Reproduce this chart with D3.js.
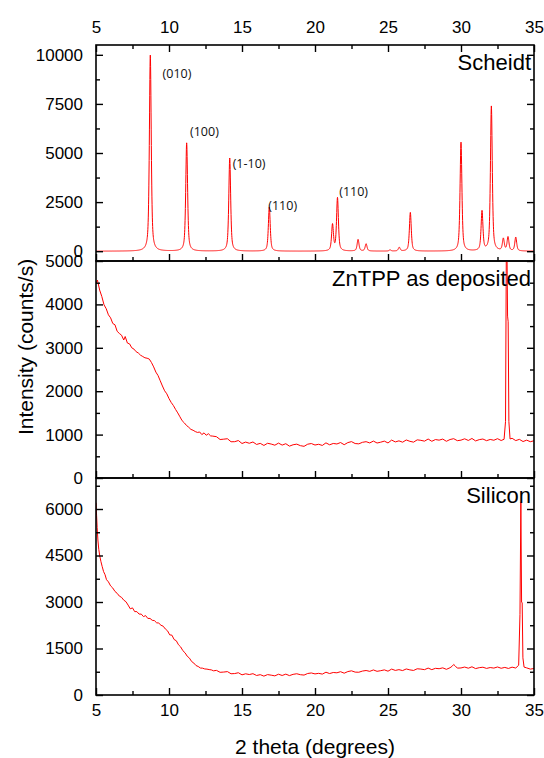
<!DOCTYPE html>
<html>
<head>
<meta charset="utf-8">
<script src="https://cdn.jsdelivr.net/npm/d3@7"></script>
<style>
  html, body { margin: 0; padding: 0; background: #fff; }
  svg { display: block; font-family: "Liberation Sans", Arial, Helvetica, sans-serif; }
</style>
</head>
<body>
<svg id="chart" width="544" height="758"></svg>
<script>
// ---------- data ----------
// 2-theta axis ticks (degrees)
const thetaTicks = [5, 10, 15, 20, 25, 30, 35];
const thetaMinorTicks = [7.5, 12.5, 17.5, 22.5, 27.5, 32.5];

// intensity ticks per panel (counts/s)
const scheidtTicks = [0, 2500, 5000, 7500, 10000];
const scheidtMinorTicks = [1250, 3750, 6250, 8750];
const znTppTicks = [0, 1000, 2000, 3000, 4000, 5000];
const znTppMinorTicks = [500, 1500, 2500, 3500, 4500];
const siliconTicks = [0, 1500, 3000, 4500, 6000];
const siliconMinorTicks = [750, 2250, 3750, 5250, 6750];

// panel titles
const panelTitles = ["Scheidt", "ZnTPP as deposited", "Silicon"];

// simulated (Scheidt) reflection list: 2-theta position and peak intensity
const reflectionAngle = [8.72, 11.21, 14.16, 16.87, 21.20, 21.54, 22.95, 23.50, 25.14, 25.77, 26.53, 30.00, 31.44, 32.08, 32.90, 33.22, 33.75];
const reflectionIntensity = [9980, 5510, 4740, 2250, 1330, 2700, 590, 370, 60, 190, 1970, 5540, 2010, 7370, 610, 700, 700];
const reflectionFwhm = 0.15;   // degrees
const reflectionEta = 0.6;     // Lorentzian fraction of the pseudo-Voigt profile

// Miller-index annotations: label, 2-theta and intensity of the label anchor
const hklLabels = ["(010)", "(100)", "(1-10)", "(110)", "(110)"];
const hklAngle = [9.56, 11.44, 14.36, 16.80, 21.66];
const hklIntensity = [8820, 5865, 4236, 2098, 2810];

// measured scan: ZnTPP film as deposited [2-theta, counts/s]
const znTppScan = [
  [5.00,4480],[5.10,4560],[5.25,4330],[5.40,4180],[5.55,3990],[5.70,3900],[5.85,3760],[6.00,3690],
  [6.15,3560],[6.30,3530],[6.45,3380],[6.60,3330],[6.75,3290],[6.90,3180],[7.00,3260],[7.15,3110],
  [7.30,3090],[7.45,3000],[7.60,2970],[7.75,2910],[7.90,2880],[8.05,2830],[8.20,2800],[8.35,2770],
  [8.50,2760],[8.65,2740],[8.80,2660],[8.95,2560],[9.10,2440],[9.25,2360],[9.40,2240],[9.55,2120],
  [9.70,2010],[9.85,1940],[10.00,1830],[10.15,1740],[10.30,1670],[10.45,1580],[10.60,1500],[10.75,1410],
  [10.90,1320],[11.05,1270],[11.20,1210],[11.35,1170],[11.50,1120],[11.65,1100],[11.80,1070],[11.95,1050],
  [12.10,1060],[12.25,1000],[12.40,1040],[12.55,985],[12.70,1020],[12.85,970],[13.00,965],[13.25,952],
  [13.50,887],[13.75,895],[14.00,905],[14.25,835],[14.50,837],[14.75,863],[15.00,795],[15.25,827],
  [15.50,800],[15.75,830],[16.00,773],[16.25,798],[16.50,750],[16.75,800],[17.00,782],[17.25,756],
  [17.50,804],[17.75,758],[18.00,790],[18.25,734],[18.50,766],[18.75,780],[19.00,745],[19.25,730],
  [19.50,779],[19.75,794],[20.00,760],[20.25,777],[20.50,750],[20.75,810],[21.00,765],[21.25,796],
  [21.50,784],[21.75,817],[22.00,767],[22.25,816],[22.50,838],[22.75,794],[23.00,787],[23.25,822],
  [23.50,837],[23.75,808],[24.00,851],[24.25,806],[24.50,825],[24.75,850],[25.00,807],[25.25,874],
  [25.50,831],[25.75,856],[26.00,825],[26.25,876],[26.50,845],[26.75,826],[27.00,879],[27.25,868],
  [27.50,849],[27.75,898],[28.00,846],[28.25,886],[28.50,872],[28.75,897],[29.00,846],[29.25,887],
  [29.50,906],[29.75,860],[30.00,872],[30.25,903],[30.50,865],[30.75,911],[31.00,854],[31.25,884],
  [31.50,898],[31.75,860],[32.00,888],[32.25,870],[32.50,906],[32.75,864],[32.95,892],[33.05,1300],
  [33.12,6400],[33.19,3730],[33.23,3600],[33.28,1300],[33.36,900],[33.50,915],[33.75,862],[34.00,890],
  [34.25,840],[34.50,872],[34.75,836],[35.00,858]
];

// measured scan: bare silicon substrate [2-theta, counts/s]
const siliconScan = [
  [5.00,6200],[5.04,5800],[5.08,5400],[5.13,5000],[5.19,4700],[5.26,4480],[5.34,4300],[5.42,4150],
  [5.52,3980],[5.62,3880],[5.72,3720],[5.85,3650],[6.00,3520],[6.15,3450],[6.30,3340],[6.45,3280],
  [6.60,3190],[6.75,3150],[6.90,3060],[7.05,3010],[7.20,2900],[7.35,2780],[7.50,2810],[7.65,2690],
  [7.80,2690],[7.95,2610],[8.10,2610],[8.25,2530],[8.40,2560],[8.55,2470],[8.70,2470],[8.85,2410],
  [9.00,2400],[9.15,2330],[9.30,2320],[9.45,2250],[9.60,2220],[9.75,2130],[9.90,2070],[10.05,1940],
  [10.20,1930],[10.35,1790],[10.50,1750],[10.65,1620],[10.80,1550],[10.95,1430],[11.10,1360],[11.25,1250],
  [11.40,1190],[11.55,1080],[11.70,1030],[11.85,950],[12.00,920],[12.15,870],[12.30,865],[12.45,840],
  [12.60,835],[12.75,820],[12.90,810],[13.05,780],[13.25,794],[13.50,732],[13.75,740],[14.00,755],
  [14.25,685],[14.50,692],[14.75,718],[15.00,650],[15.25,684],[15.50,660],[15.75,688],[16.00,630],
  [16.25,656],[16.50,609],[16.75,658],[17.00,640],[17.25,617],[17.50,670],[17.75,630],[18.00,673],
  [18.25,626],[18.50,666],[18.75,685],[19.00,655],[19.25,643],[19.50,694],[19.75,711],[20.00,680],
  [20.25,699],[20.50,674],[20.75,735],[21.00,692],[21.25,726],[21.50,716],[21.75,752],[22.00,704],
  [22.25,756],[22.50,780],[22.75,738],[23.00,734],[23.25,772],[23.50,790],[23.75,763],[24.00,808],
  [24.25,764],[24.50,784],[24.75,810],[25.00,768],[25.25,836],[25.50,793],[25.75,818],[26.00,788],
  [26.25,840],[26.50,810],[26.75,792],[27.00,846],[27.25,836],[27.50,818],[27.75,868],[28.00,818],
  [28.25,860],[28.50,848],[28.75,876],[29.00,828],[29.25,880],[29.40,930],[29.50,985],[29.60,940],
  [29.75,867],[30.00,872],[30.25,902],[30.50,864],[30.75,910],[31.00,852],[31.25,882],[31.50,896],
  [31.75,858],[32.00,886],[32.25,868],[32.50,904],[32.75,862],[33.00,890],[33.25,856],[33.50,898],
  [33.75,870],[33.95,960],[34.04,2600],[34.10,6230],[34.15,3000],[34.19,2970],[34.24,1200],[34.32,900],
  [34.50,875],[34.75,835],[35.00,855]
];

// ---------- layout ----------
const svg = d3.select("#chart");
const plotLeft = 96, plotRight = 534;
const lineColor = "#ff0000";

const x = d3.scaleLinear().domain([5, 35]).range([plotLeft, plotRight]);

// Scheidt pattern: sum of pseudo-Voigt profiles over the reflection list
function profile(t) {
  const hw = reflectionFwhm / 2;
  let s = 0;
  for (let i = 0; i < reflectionAngle.length; i++) {
    const d = t - reflectionAngle[i];
    const lor = 1 / (1 + (d / hw) * (d / hw));
    const gau = Math.exp(-4 * Math.LN2 * (d / reflectionFwhm) * (d / reflectionFwhm));
    s += reflectionIntensity[i] * (reflectionEta * lor + (1 - reflectionEta) * gau);
  }
  return s;
}
const scheidtPattern = d3.range(5, 35.0001, 0.01).map(t => [t, profile(t)]);

const panels = [
  { top: 45,  bottom: 261, domain: [-500, 10500], ticks: scheidtTicks, minor: scheidtMinorTicks, data: scheidtPattern, title: panelTitles[0] },
  { top: 261, bottom: 478, domain: [0, 5000],     ticks: znTppTicks,   minor: znTppMinorTicks,   data: znTppScan,      title: panelTitles[1] },
  { top: 478, bottom: 695, domain: [0, 7000],     ticks: siliconTicks, minor: siliconMinorTicks, data: siliconScan,    title: panelTitles[2] }
];

const majorLen = 7, minorLen = 4;

function styleAxis(g) {
  g.select(".domain").remove();
  g.selectAll(".tick line").attr("stroke", "#000").attr("stroke-width", 1.4);
  g.selectAll(".tick text").attr("fill", "#000").attr("font-size", 17);
}

panels.forEach((p, i) => {
  const y = d3.scaleLinear().domain(p.domain).range([p.bottom, p.top]);
  p.y = y;

  const clipId = "clip" + i;
  svg.append("clipPath").attr("id", clipId)
    .append("rect").attr("x", plotLeft).attr("y", p.top)
    .attr("width", plotRight - plotLeft).attr("height", p.bottom - p.top);

  // data line
  svg.append("path")
    .datum(p.data)
    .attr("clip-path", `url(#${clipId})`)
    .attr("fill", "none")
    .attr("stroke", lineColor)
    .attr("stroke-width", 1)
    .attr("stroke-linejoin", "round")
    .attr("d", d3.line().x(d => x(d[0])).y(d => y(d[1])));

  // left axis: labelled majors + minors, pointing inward
  svg.append("g").attr("transform", `translate(${plotLeft},0)`)
    .call(d3.axisLeft(y).tickValues(p.ticks).tickSize(-majorLen).tickPadding(13).tickFormat(d3.format("d")))
    .call(styleAxis);
  svg.append("g").attr("transform", `translate(${plotLeft},0)`)
    .call(d3.axisLeft(y).tickValues(p.minor).tickSize(-minorLen).tickFormat(""))
    .call(styleAxis);

  // right axis: ticks only
  svg.append("g").attr("transform", `translate(${plotRight},0)`)
    .call(d3.axisRight(y).tickValues(p.ticks).tickSize(-majorLen).tickFormat(""))
    .call(styleAxis);
  svg.append("g").attr("transform", `translate(${plotRight},0)`)
    .call(d3.axisRight(y).tickValues(p.minor).tickSize(-minorLen).tickFormat(""))
    .call(styleAxis);

  // bottom edge ticks of each panel (inward); labels only on the lowest panel
  const isLast = i === panels.length - 1;
  svg.append("g").attr("transform", `translate(0,${p.bottom})`)
    .call(d3.axisBottom(x).tickValues(thetaTicks).tickSize(-majorLen).tickPadding(9)
      .tickFormat(isLast ? d3.format("d") : ""))
    .call(styleAxis);
  svg.append("g").attr("transform", `translate(0,${p.bottom})`)
    .call(d3.axisBottom(x).tickValues(thetaMinorTicks).tickSize(-minorLen).tickFormat(""))
    .call(styleAxis);

  // frame
  svg.append("rect")
    .attr("x", plotLeft).attr("y", p.top)
    .attr("width", plotRight - plotLeft).attr("height", p.bottom - p.top)
    .attr("fill", "none").attr("stroke", "#000").attr("stroke-width", 1.6);

  // panel title
  svg.append("text")
    .attr("x", plotRight - 3).attr("y", p.top + 25)
    .attr("text-anchor", "end")
    .attr("font-size", 22)
    .attr("fill", "#000")
    .text(p.title);
});

// top axis of the uppermost panel, labelled
svg.append("g").attr("transform", `translate(0,${panels[0].top})`)
  .call(d3.axisTop(x).tickValues(thetaTicks).tickSize(-majorLen).tickPadding(12).tickFormat(d3.format("d")))
  .call(styleAxis);
svg.append("g").attr("transform", `translate(0,${panels[0].top})`)
  .call(d3.axisTop(x).tickValues(thetaMinorTicks).tickSize(-minorLen).tickFormat(""))
  .call(styleAxis);

// Miller-index labels on the simulated pattern
svg.append("g").selectAll("text")
  .data(hklLabels)
  .join("text")
  .attr("x", (d, i) => x(hklAngle[i]))
  .attr("y", (d, i) => panels[0].y(hklIntensity[i]))
  .attr("font-family", "'Open Sans', 'Noto Sans', sans-serif")
  .attr("font-size", 12.5)
  .attr("fill", "#111")
  .text(d => d);

// axis titles
svg.append("text")
  .attr("transform", "translate(33,347) rotate(-90)")
  .attr("text-anchor", "middle")
  .attr("font-size", 21)
  .attr("fill", "#000")
  .text("Intensity (counts/s)");

svg.append("text")
  .attr("x", (plotLeft + plotRight) / 2).attr("y", 754)
  .attr("text-anchor", "middle")
  .attr("font-size", 21)
  .attr("fill", "#000")
  .text("2 theta (degrees)");
</script>
</body>
</html>
